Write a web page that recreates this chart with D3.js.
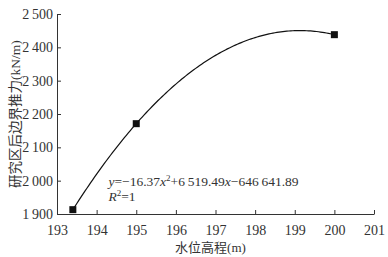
<!DOCTYPE html>
<html>
<head>
<meta charset="utf-8">
<script src="https://cdn.jsdelivr.net/npm/d3@7"></script>
<style>
  body { margin: 0; background: #fff; }
  text { font-family: "Liberation Serif", "Noto Sans CJK SC", serif; fill: #333; }
</style>
</head>
<body>
<div id="chart"></div>
<script>
// data
const waterLevel = [193.4, 195, 200];
const thrust = [1913, 2171, 2438];
const xTicks = [193, 194, 195, 196, 197, 198, 199, 200, 201];
const yTicks = [1900, 2000, 2100, 2200, 2300, 2400, 2500];

const width = 388, height = 257;
const margin = { top: 14, right: 14, bottom: 43, left: 57 };
const innerWidth = width - margin.left - margin.right;
const innerHeight = height - margin.top - margin.bottom;

const svg = d3.select("#chart").append("svg")
    .attr("width", width)
    .attr("height", height);

const g = svg.append("g")
    .attr("transform", `translate(${margin.left},${margin.top})`);

const x = d3.scaleLinear().domain([193, 201]).range([0, innerWidth]);
const y = d3.scaleLinear().domain([1900, 2500]).range([innerHeight, 0]);

const fmt = d => {
    const s = String(d);
    return s.length > 3 ? s.slice(0, s.length - 3) + "\u2009" + s.slice(-3) : s;
};

const xAxis = g.append("g")
    .attr("transform", `translate(0,${innerHeight})`)
    .call(d3.axisBottom(x).tickValues(xTicks).tickSize(-4).tickPadding(8).tickSizeOuter(0));
const yAxis = g.append("g")
    .call(d3.axisLeft(y).tickValues(yTicks).tickSize(-4).tickPadding(4).tickSizeOuter(0).tickFormat(fmt));

[xAxis, yAxis].forEach(a => {
    a.select(".domain").attr("stroke", "#333");
    a.selectAll(".tick line").attr("stroke", "#333");
    a.selectAll(".tick text")
        .style("font-family", "'Liberation Serif', serif")
        .style("font-size", "14px")
        .attr("fill", "#333");
});
xAxis.selectAll(".tick text").attr("dy", "0.9em");

// quadratic through the three points
function quadFit(xs, ys) {
    const [x0, x1, x2] = xs, [y0, y1, y2] = ys;
    return t => y0 * (t - x1) * (t - x2) / ((x0 - x1) * (x0 - x2))
        + y1 * (t - x0) * (t - x2) / ((x1 - x0) * (x1 - x2))
        + y2 * (t - x0) * (t - x1) / ((x2 - x0) * (x2 - x1));
}
const f = quadFit(waterLevel, thrust);
const xs = d3.range(waterLevel[0], waterLevel[2] + 0.001, 0.05);

g.append("path")
    .datum(xs)
    .attr("fill", "none")
    .attr("stroke", "#111")
    .attr("stroke-width", 1.2)
    .attr("d", d3.line().x(d => x(d)).y(d => y(f(d))));

g.selectAll(".pt")
    .data(waterLevel.map((d, i) => ({ x: d, y: thrust[i] })))
    .join("rect")
    .attr("class", "pt")
    .attr("x", d => x(d.x) - 3.5)
    .attr("y", d => y(d.y) - 3.5)
    .attr("width", 7)
    .attr("height", 7)
    .attr("fill", "#111");

// equation
const eq = g.append("text")
    .attr("x", x(194.3))
    .attr("y", y(1984))
    .style("font-size", "13.5px");
eq.append("tspan").style("font-style", "italic").text("y");
eq.append("tspan").text("=\u221216.37");
eq.append("tspan").style("font-style", "italic").text("x");
eq.append("tspan").attr("dy", -5).style("font-size", "9px").text("2");
eq.append("tspan").attr("dy", 5).text("+6\u2009519.49");
eq.append("tspan").style("font-style", "italic").text("x");
eq.append("tspan").text("\u2212646\u2009641.89");

const r2 = g.append("text")
    .attr("x", x(194.3))
    .attr("y", y(1939))
    .style("font-size", "13.5px");
r2.append("tspan").style("font-style", "italic").text("R");
r2.append("tspan").attr("dy", -5).style("font-size", "9px").text("2");
r2.append("tspan").attr("dy", 5).text("=1");

// axis titles
svg.append("text")
    .attr("x", margin.left + innerWidth / 2 - 5)
    .attr("y", 252)
    .attr("text-anchor", "middle")
    .style("font-size", "13px")
    .text("水位高程(m)");

svg.append("text")
    .attr("transform", `translate(20,${margin.top + innerHeight / 2}) rotate(-90)`)
    .attr("text-anchor", "middle")
    .style("font-size", "13.5px")
    .text("研究区后边界推力(kN/m)");
</script>
</body>
</html>
